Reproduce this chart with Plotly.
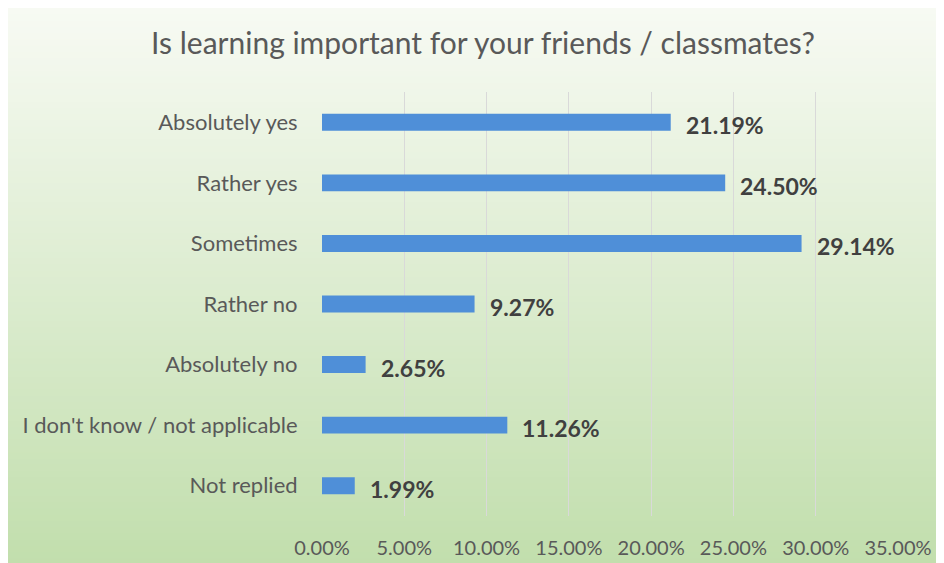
import plotly.graph_objects as go

categories = ["Absolutely yes", "Rather yes", "Sometimes", "Rather no",
              "Absolutely no", "I don't know / not applicable", "Not replied"]
values = [21.19, 24.50, 29.14, 9.27, 2.65, 11.26, 1.99]
x_ticks = [0, 5, 10, 15, 20, 25, 30, 35]
x_tick_labels = ["0.00%", "5.00%", "10.00%", "15.00%", "20.00%", "25.00%", "30.00%", "35.00%"]
title_text = "Is learning important for your friends / classmates?"

W, H = 944, 563
OFF = 8  # page body margin offset
FONT = "Lato, 'Open Sans', sans-serif"


def fx(px):
    return (px - OFF) / W


def fy(py):
    return 1 - (py - OFF) / H


fig = go.Figure()
fig.add_trace(go.Bar(
    x=values, y=categories, orientation="h",
    marker=dict(color="#4F8FD8", line=dict(width=0)),
    width=0.28, hoverinfo="skip",
))

annotations = []
for c, v in zip(categories, values):
    annotations.append(dict(
        x=v, y=c, xref="x", yref="y", text=f"{v:.2f}%",
        showarrow=False, xanchor="left", xshift=13, yshift=-3,
        font=dict(family=FONT, size=23, color="#404040", weight="bold"),
    ))


def lerp(a, b, t):
    return tuple(round(a[i] + (b[i] - a[i]) * t) for i in range(3))


top_c = (247, 250, 243)
bot_c = (193, 222, 172)
n = 90
shapes = []
for i in range(n):
    t = i / (n - 1)
    r, g, b = lerp(top_c, bot_c, t)
    y1 = 1 - i / n
    y0 = 1 - (i + 1) / n
    shapes.append(dict(
        type="rect", xref="paper", yref="paper",
        x0=0, x1=fx(942), y0=y0 - 0.002, y1=y1,
        fillcolor=f"rgb({r},{g},{b})", line=dict(width=0), layer="below",
    ))

fig.update_layout(
    template="none",
    width=W, height=H, autosize=False,
    margin=dict(l=0, r=0, t=0, b=0, pad=0),
    paper_bgcolor="white", plot_bgcolor="rgba(0,0,0,0)",
    showlegend=False,
    title=dict(text=title_text, x=fx(483), xanchor="center",
               y=fy(43), yanchor="middle",
               font=dict(family=FONT, size=30, color="#595959")),
    xaxis=dict(domain=[fx(322), fx(898)], range=[0, 35], automargin=False,
               tickmode="array", tickvals=x_ticks, ticktext=x_tick_labels,
               showgrid=True, gridcolor="#D9D9D9", gridwidth=1,
               zeroline=False, showline=False,
               ticks="outside", ticklen=14, tickcolor="rgba(0,0,0,0)",
               tickfont=dict(family=FONT, size=20, color="#595959"),
               fixedrange=True),
    yaxis=dict(domain=[fy(516), fy(92)], autorange="reversed", automargin=False,
               categoryorder="array", categoryarray=categories,
               showgrid=False, zeroline=False, showline=False,
               ticks="outside", ticklen=19, tickcolor="rgba(0,0,0,0)",
               tickfont=dict(family=FONT, size=22, color="#595959"),
               fixedrange=True),
    annotations=annotations,
    shapes=shapes,
    bargap=0.72,
)

fig.write_html("out.html")
